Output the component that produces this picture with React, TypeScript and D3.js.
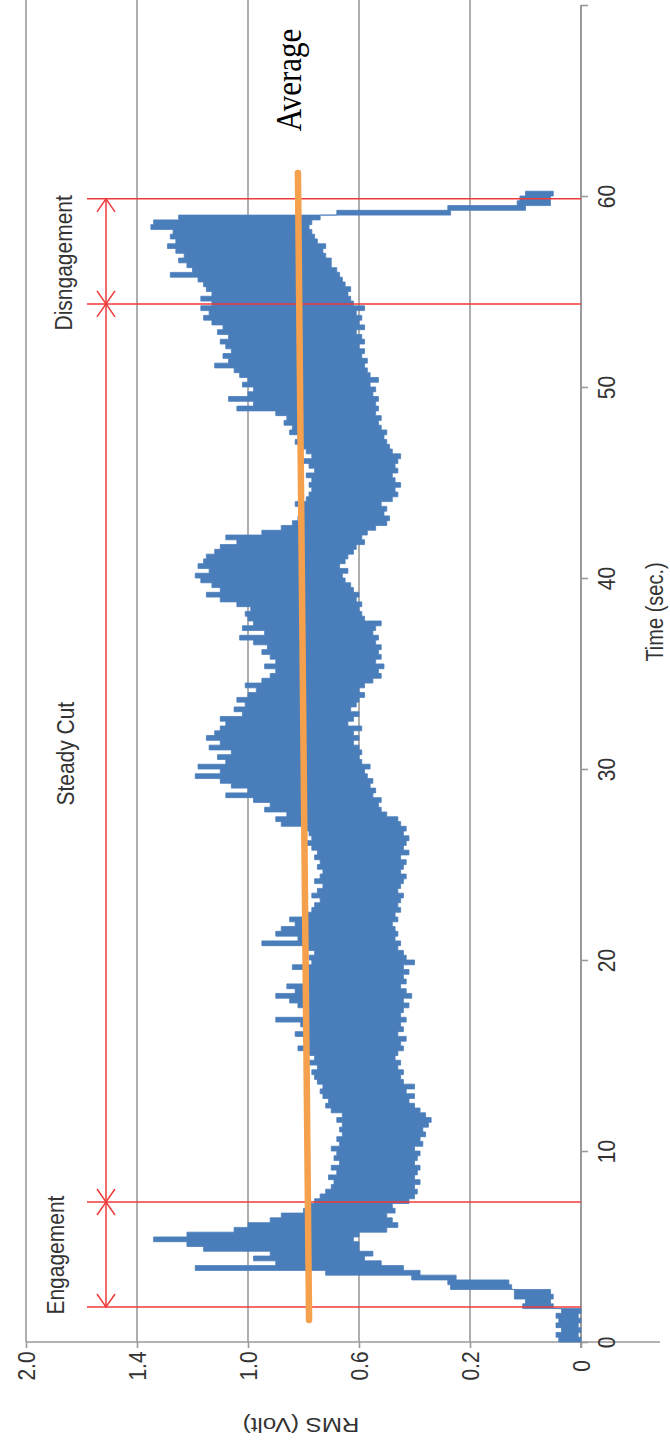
import { useEffect, useRef } from "react";
import * as d3 from "d3";

// RMS signal, sampled every 0.25 s from t = 0 (max / min of the trace in each slot)
const T_START = 0;
const T_STEP = 0.25;
const RMS_HIGH = [
  0.08, 0.09, 0.07, 0.09,
  0.08, 0.09, 0.07, 0.21,
  0.20, 0.24, 0.24, 0.47,
  0.48, 0.61, 0.92, 1.39,
  1.10, 1.18, 1.12, 1.36,
  1.42, 1.54, 1.42, 1.25,
  1.20, 1.12, 1.08, 1.00,
  0.98, 0.96, 0.94, 0.92,
  0.90, 0.89, 0.91, 0.88,
  0.90, 0.87, 0.89, 0.88,
  0.90, 0.87, 0.88, 0.86,
  0.87, 0.86, 0.88, 0.86,
  0.90, 0.92, 0.91, 0.93,
  0.94, 0.93, 0.95, 0.96,
  0.97, 0.95, 0.98, 0.96,
  0.99, 1.02, 0.98, 1.00,
  1.03, 0.99, 1.01, 1.10,
  1.00, 0.98, 1.02, 1.05,
  1.10, 1.03, 1.06, 0.99,
  1.00, 0.98, 1.04, 0.97,
  0.98, 0.96, 1.00, 1.15,
  1.02, 1.10, 1.08, 1.03,
  1.05, 0.99, 0.97, 0.96,
  0.94, 0.97, 0.95, 0.93,
  0.96, 0.94, 0.93, 0.95,
  0.94, 0.96, 0.95, 0.97,
  0.99, 0.97, 0.98, 1.00,
  1.08, 1.10, 1.06, 1.14,
  1.12, 1.18, 1.28, 1.20,
  1.26, 1.30, 1.39, 1.30,
  1.38, 1.28, 1.31, 1.26,
  1.34, 1.30, 1.35, 1.32,
  1.30, 1.28, 1.30, 1.22,
  1.25, 1.21, 1.24, 1.20,
  1.17, 1.21, 1.15, 1.12,
  1.10, 1.14, 1.10, 1.12,
  1.15, 1.13, 1.18, 1.23,
  1.14, 1.22, 1.18, 1.20,
  1.21, 1.19, 1.24, 1.30,
  1.35, 1.30, 1.33, 1.37,
  1.39, 1.34, 1.38, 1.36,
  1.35, 1.32, 1.30, 1.24,
  1.28, 1.15, 1.08, 1.04,
  1.02, 1.01, 1.00, 1.03,
  0.99, 0.98, 0.97, 0.98,
  0.97, 0.99, 0.96, 0.98,
  1.00, 0.97, 0.99, 1.01,
  1.03, 1.02, 1.05, 1.04,
  1.07, 1.06, 1.10, 1.24,
  1.18, 1.27, 1.20, 1.18,
  1.22, 1.20, 1.23, 1.25,
  1.32, 1.27, 1.29, 1.26,
  1.28, 1.30, 1.27, 1.31,
  1.29, 1.33, 1.36, 1.34,
  1.37, 1.33, 1.37, 1.33,
  1.35, 1.36, 1.38, 1.48,
  1.40, 1.42, 1.45, 1.43,
  1.46, 1.49, 1.46, 1.48,
  1.47, 1.55, 1.54, 1.45,
  0.88, 0.48, 0.23, 0.22,
  0.20, 0.17,
];
const RMS_LOW = [
  0.00, 0.01, 0.00, 0.01,
  0.00, 0.01, 0.00, 0.10,
  0.11, 0.10, 0.11, 0.25,
  0.26, 0.45, 0.58, 0.64,
  0.72, 0.78, 0.75, 0.80,
  0.80, 0.82, 0.80, 0.70,
  0.66, 0.68, 0.70, 0.67,
  0.68, 0.62, 0.60, 0.59,
  0.60, 0.58, 0.60, 0.59,
  0.58, 0.60, 0.59, 0.58,
  0.60, 0.57, 0.58, 0.56,
  0.57, 0.55, 0.54, 0.56,
  0.58, 0.60, 0.62, 0.60,
  0.63, 0.60, 0.64, 0.65,
  0.64, 0.66, 0.65, 0.67,
  0.66, 0.64, 0.65, 0.63,
  0.66, 0.64, 0.65, 0.63,
  0.65, 0.64, 0.62, 0.64,
  0.61, 0.63, 0.65, 0.63,
  0.64, 0.62, 0.64, 0.60,
  0.63, 0.64, 0.66, 0.65,
  0.67, 0.66, 0.67, 0.68,
  0.66, 0.67, 0.65, 0.66,
  0.65, 0.64, 0.66, 0.65,
  0.64, 0.63, 0.65, 0.64,
  0.63, 0.65, 0.62, 0.64,
  0.63, 0.62, 0.64, 0.63,
  0.65, 0.66, 0.70, 0.72,
  0.73, 0.72, 0.75, 0.74,
  0.76, 0.75, 0.77, 0.78,
  0.76, 0.79, 0.80, 0.79,
  0.80, 0.82, 0.80, 0.82,
  0.79, 0.84, 0.82, 0.80,
  0.83, 0.81, 0.80, 0.78,
  0.80, 0.78, 0.75, 0.72,
  0.73, 0.71, 0.74, 0.72,
  0.73, 0.72, 0.74, 0.73,
  0.75, 0.74, 0.72, 0.78,
  0.79, 0.80, 0.79, 0.81,
  0.80, 0.82, 0.83, 0.85,
  0.86, 0.84, 0.87, 0.85,
  0.84, 0.82, 0.81, 0.78,
  0.79, 0.77, 0.74, 0.70,
  0.69, 0.71, 0.70, 0.72,
  0.68, 0.66, 0.67, 0.65,
  0.67, 0.68, 0.66, 0.67,
  0.66, 0.65, 0.68, 0.69,
  0.70, 0.71, 0.70, 0.72,
  0.73, 0.72, 0.74, 0.73,
  0.74, 0.73, 0.75, 0.74,
  0.76, 0.73, 0.76, 0.77,
  0.78, 0.77, 0.79, 0.78,
  0.80, 0.78, 0.79, 0.81,
  0.78, 0.80, 0.79, 0.81,
  0.78, 0.82, 0.83, 0.84,
  0.83, 0.85, 0.86, 0.87,
  0.88, 0.90, 0.90, 0.92,
  0.93, 0.92, 0.95, 0.96,
  0.97, 0.98, 0.97, 0.94,
  0.47, 0.20, 0.11, 0.11,
  0.10, 0.10,
];

const TIME_TICKS = [0, 10, 20, 30, 40, 50, 60, 70];
const RMS_TICKS = [0, 0.4, 0.8, 1.2, 1.6, 2.0];
const RMS_TICK_LABELS = ["0", "0.2", "0.6", "1.0", "1.4", "2.0"];

// phase boundaries (sec) and their labels
const PHASE_BOUNDS = [1.83, 7.33, 54.35, 59.85];
const PHASE_NAMES = ["Engagement", "Steady Cut", "Disngagement"];
const PHASE_LABEL_T = [4.55, 30.8, 56.5];

// average line end points
const AVERAGE_T = [1.15, 61.2];
const AVERAGE_V = [0.98, 1.02];

const W = 670;
const H = 1447;

export default function App() {
  const svgRef = useRef<SVGSVGElement>(null);

  useEffect(() => {
    if (!svgRef.current) return;
    const svg = d3.select(svgRef.current);
    svg.selectAll("*").remove();

    const x = d3.scaleLinear().domain([0, 2]).range([581, 26]);
    const y = d3.scaleLinear().domain([0, 70]).range([1342, 5]);
    const sans = "'Liberation Sans', Arial, sans-serif";
    const SX = 1.15; // picture is a bit stretched across

    svg.append("rect").attr("width", W).attr("height", H).attr("fill", "#fff");

    // vertical grid
    svg.append("g")
      .selectAll("line")
      .data(RMS_TICKS.filter((d) => d > 0))
      .join("line")
      .attr("x1", (d) => x(d))
      .attr("x2", (d) => x(d))
      .attr("y1", 0)
      .attr("y2", y(0))
      .attr("stroke", "#9a9a9a")
      .attr("stroke-width", 1.6);

    // RMS axis (bottom)
    const rmsAxis = svg.append("g")
      .attr("transform", `translate(0,${y(0)})`)
      .call(
        d3.axisBottom(x)
          .tickValues(RMS_TICKS)
          .tickSize(6)
          .tickFormat((_, i) => RMS_TICK_LABELS[i])
      );
    rmsAxis.select(".domain").remove();
    rmsAxis.selectAll(".tick line").attr("stroke", "#9a9a9a").attr("stroke-width", 1.6);
    rmsAxis.selectAll(".tick text")
      .attr("y", null)
      .attr("dy", "0.35em")
      .attr("transform", `translate(0,24) scale(${SX},1) rotate(-90)`)
      .attr("text-anchor", "middle")
      .attr("fill", "#333")
      .attr("font-size", 21)
      .attr("font-family", sans);
    svg.append("line")
      .attr("x1", x(2))
      .attr("x2", 660)
      .attr("y1", y(0))
      .attr("y2", y(0))
      .attr("stroke", "#9a9a9a")
      .attr("stroke-width", 1.6);

    // Time axis (right)
    const timeAxis = svg.append("g")
      .attr("transform", `translate(${x(0)},0)`)
      .call(
        d3.axisRight(y)
          .tickValues(TIME_TICKS)
          .tickSize(7)
          .tickFormat((d) => (d === 70 ? "" : String(d)))
      );
    timeAxis.select(".domain").remove();
    timeAxis.selectAll(".tick line").attr("stroke", "#9a9a9a").attr("stroke-width", 1.6);
    timeAxis.selectAll(".tick text")
      .attr("x", null)
      .attr("dy", "0.35em")
      .attr("transform", `translate(26,0) scale(${SX},1) rotate(-90)`)
      .attr("text-anchor", "middle")
      .attr("fill", "#333")
      .attr("font-size", 21)
      .attr("font-family", sans);
    svg.append("line")
      .attr("x1", x(0))
      .attr("x2", x(0))
      .attr("y1", y(70))
      .attr("y2", y(0) + 6)
      .attr("stroke", "#9a9a9a")
      .attr("stroke-width", 2);

    // signal band
    const samples = RMS_HIGH.map((hi, i) => ({ t: T_START + i * T_STEP, hi, lo: RMS_LOW[i] }));
    const band = d3.area<{ t: number; hi: number; lo: number }>()
      .y((d) => y(d.t))
      .x0((d) => x(d.lo))
      .x1((d) => x(d.hi))
      .curve(d3.curveStepBefore);
    svg.append("path")
      .datum(samples)
      .attr("d", band)
      .attr("fill", "#4a7ebb")
      .attr("stroke", "#4a7ebb")
      .attr("stroke-width", 0.8);

    // phase boundaries
    const red = "#f03a3a";
    svg.append("g")
      .selectAll("line")
      .data(PHASE_BOUNDS)
      .join("line")
      .attr("x1", 87)
      .attr("x2", x(0))
      .attr("y1", (d) => y(d))
      .attr("y2", (d) => y(d))
      .attr("stroke", red)
      .attr("stroke-width", 1.5);

    const ax = 106;
    svg.append("line")
      .attr("x1", ax)
      .attr("x2", ax)
      .attr("y1", y(PHASE_BOUNDS[0]))
      .attr("y2", y(PHASE_BOUNDS[PHASE_BOUNDS.length - 1]))
      .attr("stroke", red)
      .attr("stroke-width", 1.5);

    const heads = svg.append("g").attr("fill", "none").attr("stroke", red).attr("stroke-width", 1.5);
    PHASE_BOUNDS.forEach((b, i) => {
      const by = y(b);
      if (i < PHASE_BOUNDS.length - 1) {
        heads.append("path").attr("d", `M${ax - 9},${by - 13}L${ax},${by}L${ax + 9},${by - 13}`);
      }
      if (i > 0) {
        heads.append("path").attr("d", `M${ax - 9},${by + 13}L${ax},${by}L${ax + 9},${by + 13}`);
      }
    });

    const labelX = [64, 74, 72];
    PHASE_NAMES.forEach((name, i) => {
      svg.append("text")
        .attr("transform", `translate(${labelX[i]},${y(PHASE_LABEL_T[i])}) scale(${SX},1) rotate(-90)`)
        .attr("text-anchor", "middle")
        .attr("fill", "#333")
        .attr("font-size", 21)
        .attr("font-family", sans)
        .text(name);
    });

    // average line
    const avg = AVERAGE_T.map((t, i) => ({ t, v: AVERAGE_V[i] }));
    svg.append("path")
      .datum(avg)
      .attr("d", d3.line<{ t: number; v: number }>().x((d) => x(d.v)).y((d) => y(d.t)))
      .attr("stroke", "#f4a04c")
      .attr("stroke-width", 6.5)
      .attr("stroke-linecap", "round")
      .attr("fill", "none");

    svg.append("text")
      .attr("transform", `translate(301,80) scale(${SX},1) rotate(-90)`)
      .attr("text-anchor", "middle")
      .attr("fill", "#000")
      .attr("font-size", 31)
      .attr("font-family", "'Liberation Serif', 'Times New Roman', serif")
      .text("Average");

    // axis titles
    svg.append("text")
      .attr("transform", `translate(655,612) scale(${SX},1) rotate(-90)`)
      .attr("dy", "0.35em")
      .attr("text-anchor", "middle")
      .attr("fill", "#333")
      .attr("font-size", 20)
      .attr("font-family", sans)
      .text("Time (sec.)");

    svg.append("text")
      .attr("transform", `translate(301,1425) scale(${SX},1) rotate(180)`)
      .attr("dy", "0.35em")
      .attr("text-anchor", "middle")
      .attr("fill", "#333")
      .attr("font-size", 21)
      .attr("font-family", sans)
      .text("RMS (Volt)");
  }, []);

  return (
    <svg
      ref={svgRef}
      width={W}
      height={H}
      style={{ position: "absolute", left: 0, top: 0, display: "block" }}
    />
  );
}
